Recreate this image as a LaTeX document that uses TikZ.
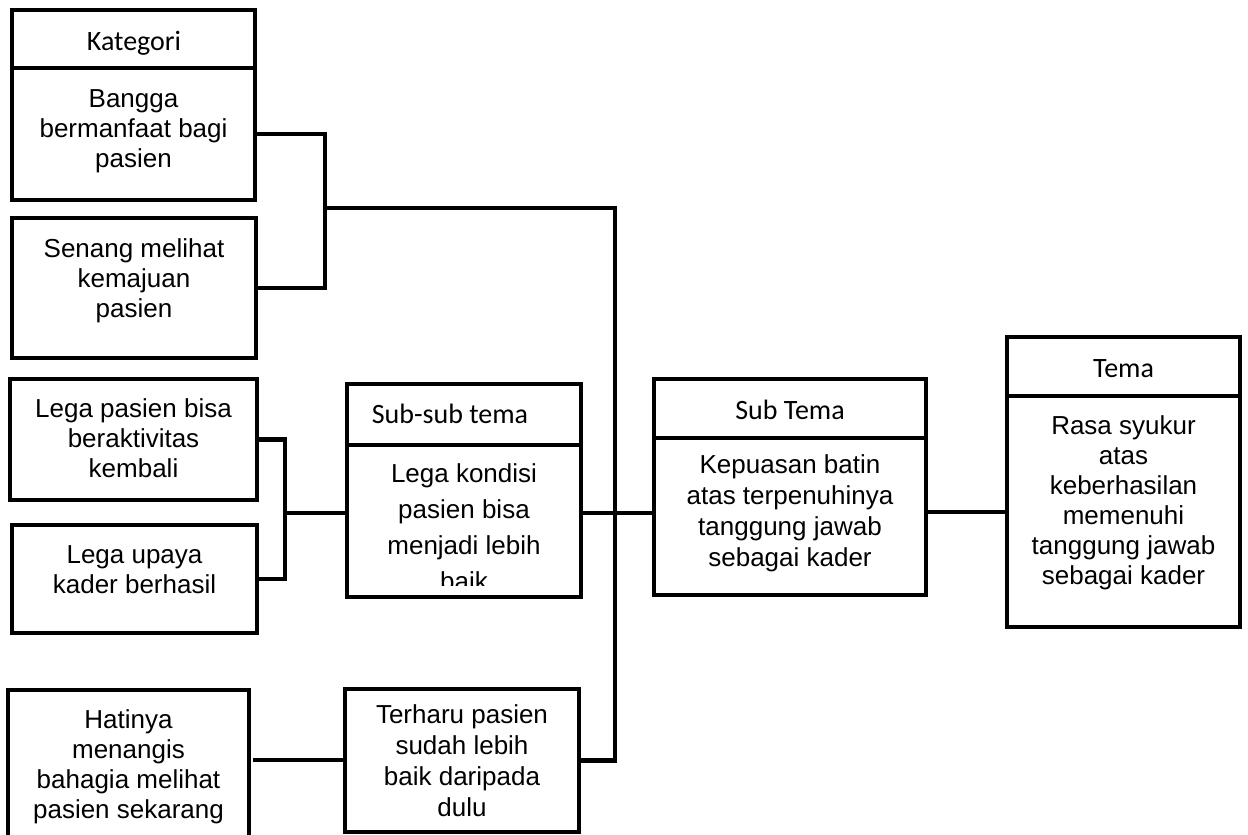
\documentclass[tikz,border=0pt]{standalone}
\usepackage{fontspec}
\setmainfont{Liberation Sans}
\newfontfamily\headfont{Carlito}
\usetikzlibrary{fit}

% multi-line centred text whose reference point is the first baseline
\newcommand{\lines}[1]{\begin{tabular}[t]{@{}c@{}}#1\end{tabular}}

\begin{document}
\begin{tikzpicture}[x=1pt,y=-1pt,
  frame/.style={draw, line width=3.3pt, inner sep=0pt},
  conn/.style={line width=4.3pt, line cap=rect},
  head/.style={anchor=base, inner sep=0pt, font=\headfont\fontsize{28}{32}\selectfont},
  txt/.style={anchor=base, inner sep=0pt, font=\fontsize{26}{30}\selectfont},
  txtwide/.style={anchor=base, inner sep=0pt, font=\fontsize{26}{36}\selectfont},
  txtmid/.style={anchor=base, inner sep=0pt, font=\fontsize{26}{31}\selectfont}]
\useasboundingbox[fill=white] (0,0) rectangle (1248,835);

% ---- boxes ----
\node[frame, fit={(12,10) (255,68)}] (kathead) {};
\node[frame, fit={(12,68) (255,200)}] (bangga) {};
\node[frame, fit={(12,218) (256,358)}] (senang) {};
\node[frame, fit={(10,379) (257,500)}] (legapasien) {};
\node[frame, fit={(12,525) (257,633)}] (legaupaya) {};
\node[frame, fit={(8,690) (249,840)}] (hatinya) {};
\node[frame, fit={(347,384) (581,445)}] (subsubhead) {};
\node[frame, fit={(347,445) (581,597)}] (subsub) {};
\node[frame, fit={(345,689) (579,832)}] (terharu) {};
\node[frame, fit={(654,379) (926,438)}] (subtemahead) {};
\node[frame, fit={(654,438) (926,595)}] (subtema) {};
\node[frame, fit={(1007,337) (1240,396)}] (temahead) {};
\node[frame, fit={(1007,396) (1240,627)}] (tema) {};

% ---- texts ----
\node[head] (t1) at (134,50) {Kategori};
\node[txt] (t2) at (133.5,107) {\lines{Bangga\\bermanfaat bagi\\pasien}};
\node[txt] (t3) at (134,257) {\lines{Senang melihat\\kemajuan\\pasien}};
\node[txt] (t4) at (133.5,417) {\lines{Lega pasien bisa\\beraktivitas\\kembali}};
\node[txt] (t5) at (134.5,563) {\lines{Lega upaya\\kader berhasil}};
\node[txt] (t6) at (128.5,728) {\lines{Hatinya\\menangis\\bahagia melihat\\pasien sekarang}};
\node[head] (t7) at (450,423) {Sub-sub tema};
\begin{scope}
  \clip (347,445) rectangle (581,585);
  \node[txtwide] (t8) at (464,482) {\lines{Lega kondisi\\pasien bisa\\menjadi lebih\\baik}};
\end{scope}
\node[txtmid] (t9) at (462,723) {\lines{Terharu pasien\\sudah lebih\\baik daripada\\dulu}};
\node[head] (t10) at (790,419) {Sub Tema};
\node[txtmid] (t11) at (790,473) {\lines{Kepuasan batin\\atas terpenuhinya\\tanggung jawab\\sebagai kader}};
\node[head] (t12) at (1123.5,377) {Tema};
\node[txt] (t13) at (1123.5,434) {\lines{Rasa syukur\\atas\\keberhasilan\\memenuhi\\tanggung jawab\\sebagai kader}};

% ---- connectors ----
\coordinate (jA) at (325,208);
\coordinate (vtop) at (615,208);
\coordinate (jB) at (285,513);
\coordinate (jC) at (300,760);

\draw[conn] (bangga.east) -| (jA) |- (senang.east);
\draw[conn] (jA) -- (vtop) |- (terharu.east);
\draw[conn] (legapasien.east) -| (jB) |- (legaupaya.east);
\draw[conn] (jB) -- (jB -| subsub.west);
\draw[conn] (jB -| subsub.east) -- (jB -| subtema.west);
\draw[conn] ([yshift=1pt]jB -| subtema.east) -- ([yshift=1pt]jB -| tema.west);
\draw[conn] ([xshift=4pt]jC -| hatinya.east) -- (jC -| terharu.west);
\end{tikzpicture}
\end{document}
